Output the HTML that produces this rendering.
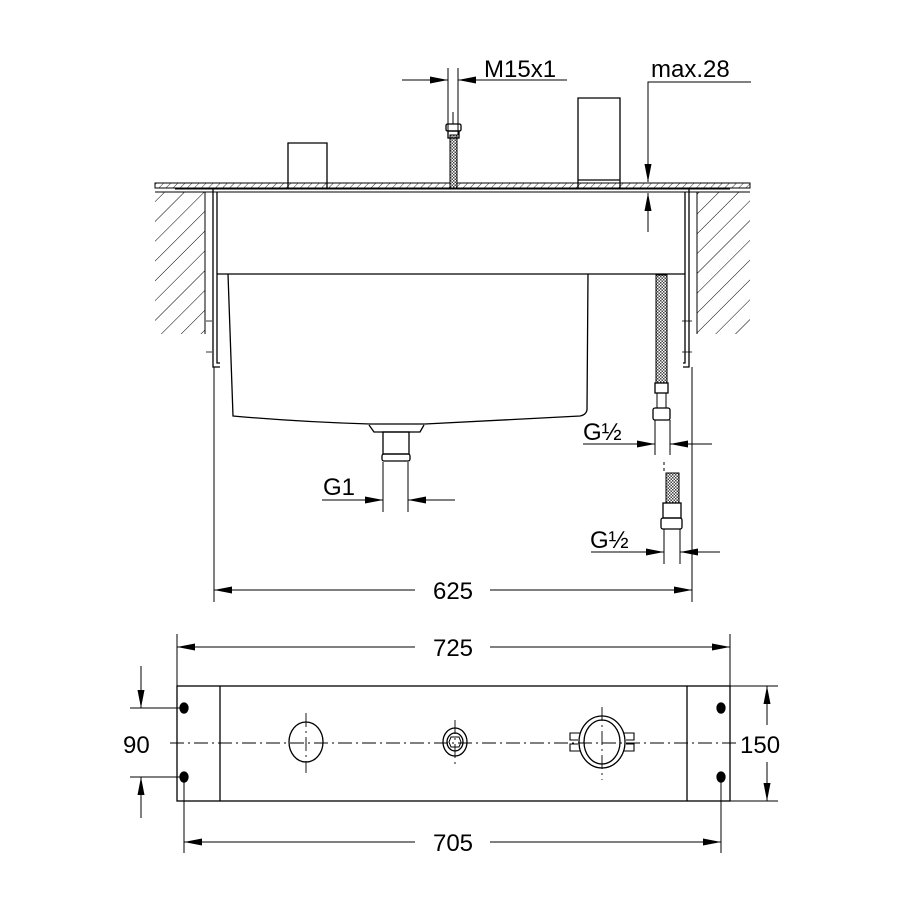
<!DOCTYPE html>
<html><head><meta charset="utf-8"><style>
html,body{margin:0;padding:0;background:#fff;}
svg{display:block}
text{font-family:"Liberation Sans",sans-serif;fill:#000}
</style></head><body>
<svg width="900" height="900" viewBox="0 0 900 900" xmlns="http://www.w3.org/2000/svg">
<defs>
<pattern id="h" patternUnits="userSpaceOnUse" width="14" height="14" patternTransform="rotate(45)">
<line x1="0" y1="0" x2="0" y2="14" stroke="#000" stroke-width="1"/></pattern>
<pattern id="hs" patternUnits="userSpaceOnUse" width="5" height="5" patternTransform="rotate(45)">
<line x1="0" y1="0" x2="0" y2="5" stroke="#000" stroke-width="0.8"/></pattern>
<pattern id="mesh" patternUnits="userSpaceOnUse" width="3" height="3">
<rect width="3" height="3" fill="#fff"/><rect width="1.5" height="1.5" fill="#444"/><rect x="1.5" y="1.5" width="1.5" height="1.5" fill="#444"/></pattern>
<marker id="A" viewBox="0 0 18 7" refX="18" refY="3.5" markerWidth="18" markerHeight="7" markerUnits="userSpaceOnUse" orient="auto"><path d="M0,0L18,3.5L0,7z" fill="#000"/></marker>
</defs>
<g fill="none" stroke="#000" stroke-width="1.3">
<rect x="155" y="192" width="50" height="142" fill="url(#h)" stroke="none"/>
<rect x="697" y="192" width="53" height="142" fill="url(#h)" stroke="none"/>
<line x1="205" y1="192" x2="205" y2="334" stroke-width="1"/>
<line x1="697" y1="192" x2="697" y2="334" stroke-width="1"/>
<rect x="155" y="183" width="595" height="5" fill="url(#hs)" stroke-width="1"/>
<line x1="175" y1="189" x2="730" y2="189" stroke-width="1"/>
<line x1="155" y1="192" x2="750" y2="192" stroke-width="1"/>
<path d="M213,189V367H220"/><path d="M217,192V363H220"/>
<path d="M689,189V367H683"/><path d="M685,192V363H683"/>
<g stroke-width="0.8"><line x1="206" y1="321" x2="212" y2="321"/><line x1="206" y1="352" x2="212" y2="352"/>
<line x1="682" y1="321" x2="692" y2="321"/><line x1="682" y1="352" x2="692" y2="352"/></g>
<line x1="217" y1="274" x2="685" y2="274"/>
<path d="M228,274L233,416Q300,422 370,424H425Q500,420 580,416Q586,415 587,410L588,274"/>
<path d="M369,425L374,432H420L424,425"/>
<rect x="383" y="432" width="26" height="22"/>
<rect x="382" y="454" width="28" height="7" rx="2"/>
<path d="M288,188V143H327V188"/>
<path d="M578,188V98H620V188M578,180H620"/>
<rect x="450" y="135" width="7" height="53" fill="url(#mesh)" stroke-width="1"/>
<rect x="446" y="124" width="15" height="7" rx="1.5"/>
<rect x="448" y="131" width="11" height="7"/>
<line x1="453" y1="112" x2="453" y2="124" stroke-width="1"/>
<rect x="656" y="275" width="11" height="108" fill="url(#mesh)" stroke-width="1"/>
<rect x="655" y="383" width="13" height="10"/>
<rect x="653" y="408" width="17" height="12" rx="2"/>
<line x1="657" y1="393" x2="657" y2="408" stroke-width="1"/><line x1="666" y1="393" x2="666" y2="408" stroke-width="1"/>
<rect x="666" y="473" width="13" height="30" fill="url(#mesh)" stroke-width="1"/>
<rect x="663" y="503" width="18" height="15"/>
<rect x="661" y="518" width="21" height="11" rx="2"/>
</g>
<g fill="none" stroke="#000" stroke-width="1">
<line x1="448" y1="68" x2="448" y2="135"/><line x1="458" y1="68" x2="458" y2="135"/>
<line x1="402" y1="80" x2="448" y2="80" marker-end="url(#A)"/>
<line x1="567" y1="80" x2="458" y2="80" marker-end="url(#A)"/>
<path d="M751,82H648V182" marker-end="url(#A)"/>
<line x1="648" y1="232" x2="648" y2="193" marker-end="url(#A)"/>
<line x1="383" y1="462" x2="383" y2="512"/><line x1="408" y1="462" x2="408" y2="512"/>
<line x1="322" y1="500" x2="383" y2="500" marker-end="url(#A)"/>
<line x1="455" y1="500" x2="408" y2="500" marker-end="url(#A)"/>
<line x1="655" y1="420" x2="655" y2="455"/><line x1="670" y1="420" x2="670" y2="455"/>
<line x1="583" y1="444" x2="655" y2="444" marker-end="url(#A)"/>
<line x1="712" y1="444" x2="670" y2="444" marker-end="url(#A)"/>
<line x1="664" y1="529" x2="664" y2="564"/><line x1="680" y1="529" x2="680" y2="564"/>
<line x1="591" y1="552" x2="664" y2="552" marker-end="url(#A)"/>
<line x1="720" y1="552" x2="680" y2="552" marker-end="url(#A)"/>
<line x1="214" y1="367" x2="214" y2="602"/><line x1="692" y1="367" x2="692" y2="602"/>
<line x1="415" y1="590" x2="214" y2="590" marker-end="url(#A)"/>
<line x1="490" y1="590" x2="692" y2="590" marker-end="url(#A)"/>
<line x1="664" y1="462" x2="664" y2="474" stroke-dasharray="3,3"/>
<line x1="177" y1="634" x2="177" y2="686"/><line x1="730" y1="634" x2="730" y2="686"/>
<line x1="415" y1="647" x2="177" y2="647" marker-end="url(#A)"/>
<line x1="490" y1="647" x2="730" y2="647" marker-end="url(#A)"/>
<line x1="184" y1="777" x2="184" y2="853"/><line x1="721" y1="777" x2="721" y2="853"/>
<line x1="415" y1="842" x2="184" y2="842" marker-end="url(#A)"/>
<line x1="490" y1="842" x2="721" y2="842" marker-end="url(#A)"/>
<line x1="130" y1="708" x2="184" y2="708"/><line x1="130" y1="777" x2="184" y2="777"/>
<line x1="141" y1="666" x2="141" y2="708" marker-end="url(#A)"/>
<line x1="141" y1="818" x2="141" y2="777" marker-end="url(#A)"/>
<line x1="730" y1="686" x2="778" y2="686"/><line x1="730" y1="801" x2="778" y2="801"/>
<line x1="767" y1="725" x2="767" y2="686" marker-end="url(#A)"/>
<line x1="767" y1="762" x2="767" y2="801" marker-end="url(#A)"/>
</g>
<g fill="none" stroke="#000" stroke-width="1.3">
<rect x="177" y="686" width="553" height="115"/>
<line x1="220" y1="686" x2="220" y2="801"/><line x1="687" y1="686" x2="687" y2="801"/>
<ellipse cx="306" cy="742" rx="17" ry="20"/>
<ellipse cx="455" cy="742" rx="12" ry="14"/><ellipse cx="455" cy="742" rx="8" ry="9"/>
<path d="M451,737h8l2,5l-2,5h-8l-2,-5z" stroke-width="1"/>
<ellipse cx="602" cy="742" rx="23" ry="26"/><ellipse cx="602" cy="742" rx="18" ry="22"/>
<path d="M580,733h-10v7h8M580,751h-10v-7h8M624,733h10v7h-8M624,751h10v-7h-8" stroke-width="1.1"/>
<g fill="#000"><ellipse cx="184" cy="708" rx="4" ry="5"/><ellipse cx="184" cy="777" rx="4" ry="5"/>
<ellipse cx="721" cy="708" rx="4" ry="5"/><ellipse cx="721" cy="777" rx="4" ry="5"/></g>
</g>
<g stroke="#000" stroke-width="0.9" fill="none" stroke-dasharray="14,4,2,4">
<line x1="170" y1="743" x2="737" y2="743"/>
<line x1="306" y1="713" x2="306" y2="773"/><line x1="455" y1="720" x2="455" y2="767"/><line x1="602" y1="707" x2="602" y2="780"/>
</g>
<g font-size="24">
<text x="484" y="77">M15x1</text>
<text x="651" y="77">max.28</text>
<text x="323" y="495">G1</text>
<text x="583" y="440">G½</text>
<text x="590" y="548">G½</text>
<text x="453" y="599" text-anchor="middle">625</text>
<text x="453" y="656" text-anchor="middle">725</text>
<text x="453" y="851" text-anchor="middle">705</text>
<text x="123" y="753">90</text>
<text x="740" y="753">150</text>
</g>
</svg>
</body></html>
